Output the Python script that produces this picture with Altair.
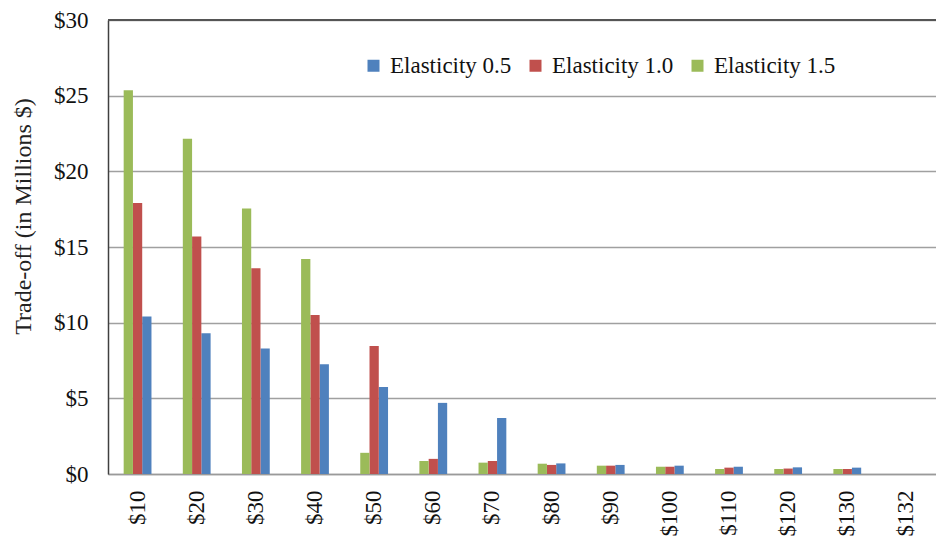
import altair as alt
import pandas as pd

prices = ["$10", "$20", "$30", "$40", "$50", "$60", "$70", "$80", "$90", "$100", "$110", "$120", "$130", "$132"]
elasticity_05 = [10.4, 9.3, 8.3, 7.25, 5.75, 4.7, 3.7, 0.7, 0.6, 0.55, 0.48, 0.44, 0.42, 0.0]
elasticity_10 = [17.9, 15.7, 13.6, 10.5, 8.45, 1.0, 0.86, 0.6, 0.55, 0.48, 0.42, 0.36, 0.33, 0.0]
elasticity_15 = [25.35, 22.15, 17.55, 14.2, 1.4, 0.86, 0.75, 0.68, 0.55, 0.48, 0.33, 0.33, 0.33, 0.0]

series_names = ["Elasticity 0.5", "Elasticity 1.0", "Elasticity 1.5"]
series_colors = ["#4F81BD", "#C0504D", "#9BBB59"]

rows = []
for name, vals in zip(series_names, [elasticity_05, elasticity_10, elasticity_15]):
    for p, v in zip(prices, vals):
        rows.append({"price": p, "series": name, "value": v})
df = pd.DataFrame(rows)

FONT = "Liberation Serif"

bars = alt.Chart(df).mark_bar(stroke=None).encode(
    x=alt.X("price:N", sort=prices,
            scale=alt.Scale(paddingInner=0.53, paddingOuter=0.265),
            axis=alt.Axis(title=None, labelAngle=-90, labelFont=FONT, labelFontSize=23,
                          labelColor="#111", labelPadding=16, ticks=False,
                          domainColor="#9a9a9a", domainWidth=1.5)),
    xOffset=alt.XOffset("series:N", sort=["Elasticity 1.5", "Elasticity 1.0", "Elasticity 0.5"],
                        scale=alt.Scale(paddingInner=0, paddingOuter=0)),
    y=alt.Y("value:Q", scale=alt.Scale(domain=[0, 30], nice=False),
            axis=alt.Axis(title="Trade-off (in Millions $)", values=[0, 5, 10, 15, 20, 25, 30],
                          labelExpr="'$' + datum.value", labelFont=FONT, labelFontSize=23,
                          labelColor="#111", labelPadding=20, ticks=False,
                          titleFont=FONT, titleFontSize=24, titleFontWeight="normal",
                          titleColor="#222", titlePadding=18, titleY=196,
                          domainColor="#404040", domainWidth=1.5,
                          grid=True, gridColor="#a0a0a0", gridWidth=1.5)),
    color=alt.Color("series:N", sort=series_names,
                    scale=alt.Scale(domain=series_names, range=series_colors),
                    legend=alt.Legend(title=None, orient="none", direction="horizontal",
                                      legendX=254, legendY=34, symbolType="square",
                                      symbolSize=144, symbolStrokeWidth=0,
                                      labelFont=FONT, labelFontSize=23, labelColor="#111",
                                      columnPadding=12, labelOffset=5)),
)

top_line = alt.Chart(pd.DataFrame({"y": [30]})).mark_rule(color="#555555", strokeWidth=2).encode(
    y=alt.Y("y:Q")
)

chart = alt.layer(bars, top_line).properties(
    width=828, height=454,
    autosize=alt.AutoSizeParams(type="none"),
    padding={"left": 100, "top": 12, "right": 0, "bottom": 62},
).configure_view(stroke=None).configure(background="white")

chart.save("out.html", embed_options={"renderer": "svg", "actions": False})
